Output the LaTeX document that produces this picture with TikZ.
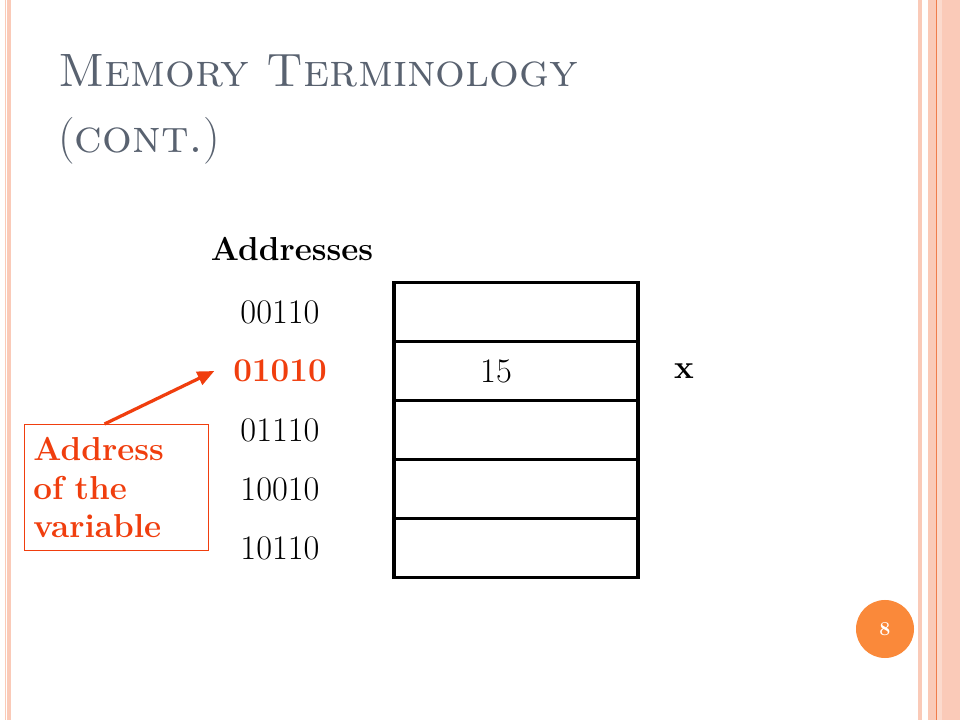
\documentclass[tikz,border=0pt]{standalone}
\usepackage{fontspec}
\usepackage{xcolor}
\usetikzlibrary{positioning,arrows.meta}

\definecolor{notered}{RGB}{240,62,14}
\definecolor{titlegray}{RGB}{89,98,112}
\definecolor{stripepink}{RGB}{250,202,184}
\definecolor{stripeorange}{RGB}{240,125,75}
\definecolor{badgeorange}{RGB}{250,137,58}

\begin{document}
\begin{tikzpicture}[x=0.025cm, y=-0.025cm,
    every node/.style = {font=\fontsize{24.5}{28.5}\selectfont},
    title/.style = {anchor=base west, inner sep=0pt, text=titlegray,
      font=\fontsize{33.3}{40}\selectfont},
    cell/.style = {shape=rectangle, draw, line width=2.4pt,
      minimum width=6.1cm, minimum height=1.475cm, outer sep=0pt},
    bold/.style = {font=\bfseries\fontsize{23.6}{27.6}\selectfont},
    note/.style = {shape=rectangle, draw=notered, line width=0.7pt,
      text=notered, align=left, text width=4.15cm, inner xsep=0.225cm,
      minimum height=3.15cm, font=\bfseries\fontsize{23.6}{27.6}\selectfont},
    pointer/.style = {draw=notered, line width=2.3pt,
      -{Triangle[length=12pt, width=10pt]}},
    badge/.style = {shape=circle, fill=badgeorange, text=white,
      minimum size=1.45cm, font=\bfseries\fontsize{14}{16}\selectfont}]

  % page and side stripes
  \useasboundingbox[fill=white] (0,0) rectangle (960,720);
  \fill[stripepink] (5,0) rectangle (6,720);
  \fill[stripepink] (7,0) rectangle (11,720);
  \fill[stripepink] (917.7,0) rectangle (921.7,720);
  \fill[stripepink] (927.7,0) rectangle (960,720);
  \fill[stripepink!70] (937,0) rectangle (941.7,720);
  \fill[stripeorange] (936,0) rectangle (937,720);

  \node[title] (t1) at (58,87) {\textsc{Memory Terminology}};
  \node[title] (t2) at (58,153) {(\textsc{cont.})};

  % memory cells
  \node[cell] (c1) at (516,312) {};
  \node[cell, below=0pt of c1] (c2) {};
  \node[cell, below=0pt of c2] (c3) {};
  \node[cell, below=0pt of c3] (c4) {};
  \node[cell, below=0pt of c4] (c5) {};
  \node (val) at ([xshift=-0.5cm]c2.center) {15};
  \node[bold, right=0.78cm of c2] (xname) {x};

  % addresses
  \node[bold] (head) at (292,249) {Addresses};
  \node (a1) at (c1 -| 280,0) {00110};
  \node[bold, text=notered] (a2) at (c2 -| 280,0) {01010};
  \node (a3) at (c3 -| 280,0) {01110};
  \node (a4) at (c4 -| 280,0) {10010};
  \node (a5) at (c5 -| 280,0) {10110};

  \node[note, anchor=north west] (note) at (24,424) {Address\\of the\\variable};
  \draw[pointer] ([xshift=-0.3cm]note.north) -- ([xshift=-0.35cm]a2.west);

  \node[badge] (page) at (885,629) {8};

\end{tikzpicture}
\end{document}
